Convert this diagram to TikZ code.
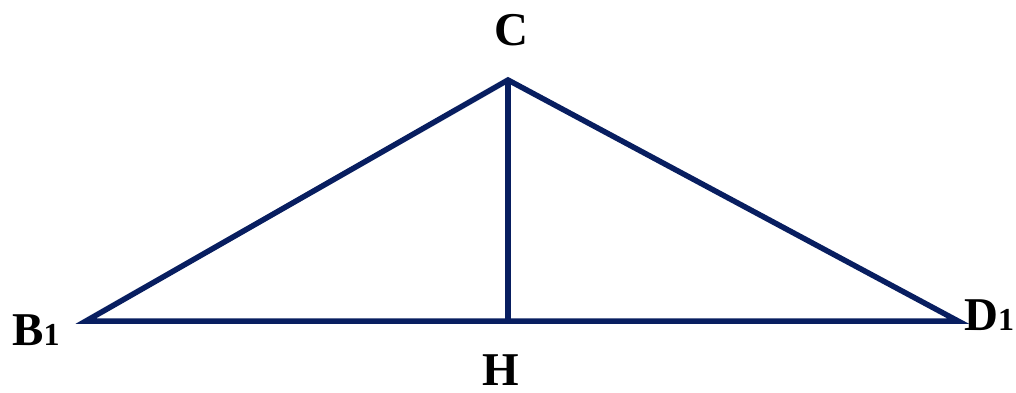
\documentclass[tikz,border=0pt]{standalone}
\usepackage{fontspec}
\setmainfont{Liberation Serif}
\definecolor{navy}{RGB}{8,30,96}

\begin{document}
\begin{tikzpicture}[
    x=1pt, y=1pt,
    side/.style={line width=5.5pt, draw=navy},
    vlabel/.style={font=\fontsize{47}{50}\selectfont\bfseries, inner sep=0pt, anchor=base west}
]
\useasboundingbox (0,0) rectangle (1016,392);

\coordinate (B1) at (86,71);
\coordinate (C) at (508,312);
\coordinate (D1) at (958,71);
\coordinate (H) at (508,71);

\node[vlabel] (lC) at (494,347) {C};
\node[vlabel] (lH) at (482,7) {H};
\node[vlabel] (lB) at (12,47) {B{\fontsize{32}{34}\selectfont 1}};
\node[vlabel] (lD) at (964,62) {D{\fontsize{32}{34}\selectfont 1}};

\draw[side] (B1) -- (C) -- (D1) -- cycle;
\draw[side] (C) -- (H);

\end{tikzpicture}
\end{document}
